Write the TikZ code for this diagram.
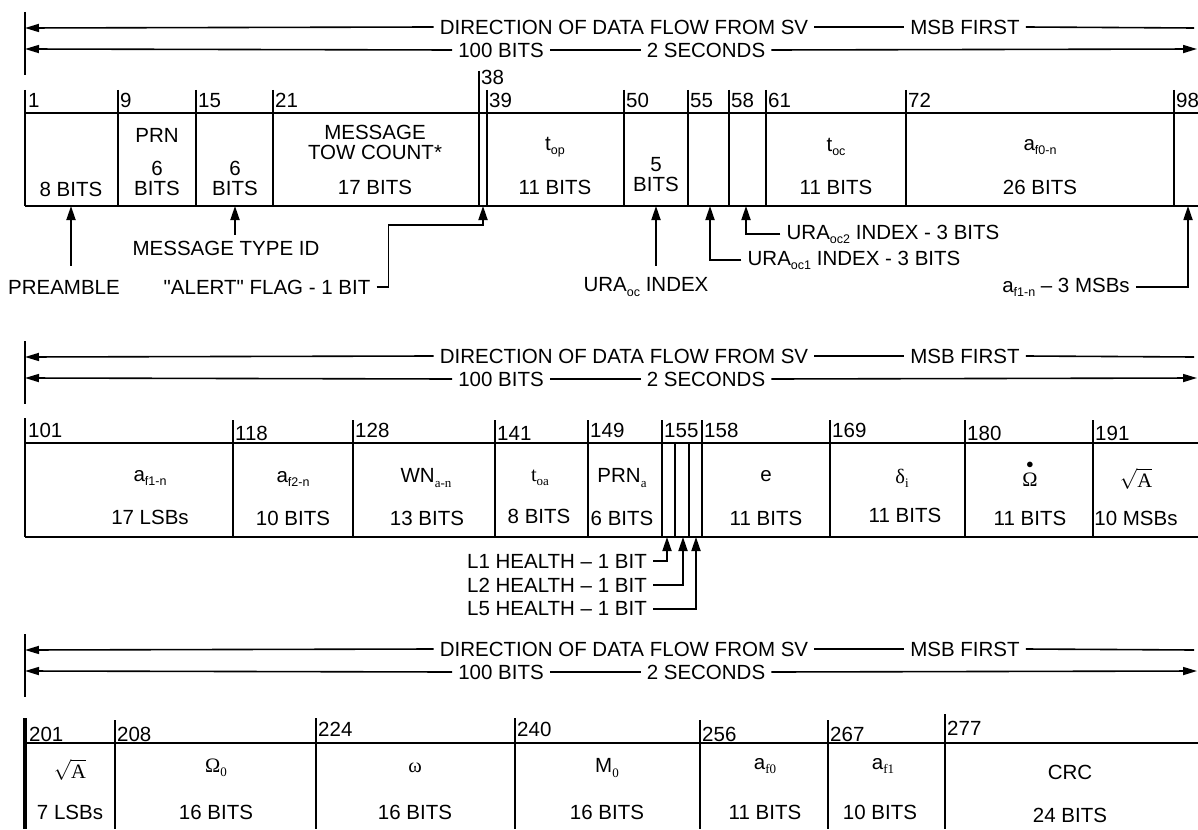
\documentclass[tikz,border=0pt]{standalone}
\usepackage{amsmath}
\usepackage{fontspec}
\setmainfont{Liberation Sans}
\newfontfamily\serifgr{Liberation Serif}
\newfontfamily\plainsans{Liberation Sans}
\usetikzlibrary{arrows.meta}

\newcommand\lowsub[1]{\raisebox{-0.2em}{\fontsize{12.5}{12.5}\selectfont #1}}
\newcommand\lowsubs[1]{\raisebox{-0.2em}{\fontsize{13}{13}\selectfont\serifgr #1}}

\tikzset{
  lbl/.style={inner sep=6pt, align=center, font=\fontsize{20.5}{20}\selectfont},
  sym/.style={lbl, inner sep=1pt},
  num/.style={inner sep=1pt, anchor=base west, font=\fontsize{20.5}{20}\selectfont},
  frame/.style={line width=2pt},
  divider/.style={line width=1.6pt},
  flow/.style={line width=1.6pt, -{Triangle[length=14pt,width=8pt]}},
  ann/.style={line width=1.8pt, -{Triangle[length=14pt,width=9pt]}},
}

\begin{document}
\begin{tikzpicture}[x=1pt,y=-1pt]
  \useasboundingbox (0,0) rectangle (1198,829);

  % direction / length headers
  \foreach \y/\r in {28/a,357/b,650/c}{
    \coordinate (bartop\r) at (25,{\y-16});
    \coordinate (barbot\r) at (25,{\y+47});
    \coordinate (dirL\r) at (25,\y);
    \coordinate (dirR\r) at (1194,\y);
    \coordinate (lenL\r) at (25,{\y+21});
    \coordinate (lenR\r) at (1197,{\y+21});
    \draw[frame] (bartop\r) -- (barbot\r);
    \node[lbl] (dir\r) at (624,{\y-1}) {DIRECTION OF DATA FLOW FROM SV};
    \node[lbl] (msb\r) at (965,{\y-1}) {MSB FIRST};
    \node[lbl] (len\r) at (501,{\y+22}) {100 BITS};
    \node[lbl] (sec\r) at (706,{\y+22}) {2 SECONDS};
    \draw[flow] (dir\r.west) -- (dirL\r);
    \draw[divider] (dir\r.east) -- (msb\r.west);
    \draw[divider] (msb\r.east) -- (dirR\r);
    \draw[flow] (len\r.west) -- (lenL\r);
    \draw[divider] (len\r.east) -- (sec\r.west);
    \draw[flow] (sec\r.east) -- (lenR\r);
  }

  % word 1: bits 1-100
  \draw[line width=2.4pt] (25,90) -- (25,206);
  \draw[frame] (25,113) -- (1198,113);
  \draw[frame] (25,206) -- (1198,206);
  \node[num] (n1) at (27,108) {1};
  \foreach \x/\n/\t/\b in {118/9/90/108,196/15/90/108,273/21/90/108,479/38/71/85,
      487/39/90/108,624/50/90/108,688/55/90/108,729/58/90/108,766/61/90/108,
      906/72/90/108,1174/98/90/108}{
    \draw[divider] (\x,\t) -- (\x,206);
    \node[num] (n\n) at ({\x+1},\b) {\n};
  }
  \node[lbl] (c1b) at (71,189) {8 BITS};
  \node[lbl] (c9a) at (157,135) {PRN};
  \node[lbl] (c9b) at (157,178) {6\\BITS};
  \node[lbl] (c15b) at (235,178) {6\\BITS};
  \node[lbl, inner sep=2pt] (c21a) at (375,142) {MESSAGE\\TOW COUNT*};
  \node[lbl] (c21b) at (375,187) {17 BITS};
  \node[lbl] (c39a) at (555,147) {t\lowsub{op}};
  \node[lbl] (c39b) at (555,187) {11 BITS};
  \node[lbl] (c50b) at (656,175) {5\\BITS};
  \node[lbl] (c61a) at (836,147) {t\lowsub{oc}};
  \node[lbl] (c61b) at (836,187) {11 BITS};
  \node[lbl] (c72a) at (1040,147) {a\lowsub{f0-n}};
  \node[lbl] (c72b) at (1040,187) {26 BITS};

  % word 1 call-outs
  \coordinate (pa) at (71,206);
  \coordinate (pb) at (235,206);
  \coordinate (pc) at (483,206);
  \coordinate (pd) at (656,206);
  \coordinate (pe) at (710,206);
  \coordinate (pf) at (746,206);
  \coordinate (pg) at (1188,206);
  \node[lbl] (pre) at (64,287) {PREAMBLE};
  \node[lbl] (mtype) at (226,248) {MESSAGE TYPE ID};
  \node[lbl] (alert) at (267,287) {{\plainsans"}ALERT{\plainsans"} FLAG - 1 BIT};
  \node[lbl] (uraoc) at (646,287) {URA\lowsub{oc} INDEX};
  \node[lbl] (uraone) at (854,260) {URA\lowsub{oc1} INDEX - 3 BITS};
  \node[lbl] (uratwo) at (893,234) {URA\lowsub{oc2} INDEX - 3 BITS};
  \node[lbl] (afmsb) at (1066,287) {a\lowsub{f1-n} -- 3 MSBs};
  \draw[ann] ([yshift=8pt]pre.north -| pa) -- (pa);
  \draw[ann] (mtype.north -| pb) -- (pb);
  \draw[ann] (alert.east) -- ++(12,0) |- ([yshift=-19pt]pc) -- (pc);
  \draw[ann] ([yshift=6pt]uraoc.north -| pd) -- (pd);
  \draw[ann] (uraone.west) -| (pe);
  \draw[ann] (uratwo.west) -| (pf);
  \draw[ann] (afmsb.east) -| (pg);

  % word 2: bits 101-200
  \draw[line width=2.4pt] (25,418) -- (25,537);
  \draw[frame] (25,443) -- (1198,443);
  \draw[frame] (25,537) -- (1198,537);
  \node[num] (n101) at (27,437) {101};
  \foreach \x/\n/\t/\b in {233/118/420/440,353/128/420/437,495/141/420/440,
      588/149/420/437,662/155/420/437,702/158/420/437,830/169/420/437,
      965/180/420/440,1093/191/420/440}{
    \draw[divider] (\x,\t) -- (\x,537);
    \node[num] (n\n) at ({\x+1},\b) {\n};
  }
  \draw[divider] (675,443) -- (675,537);
  \draw[divider] (689,443) -- (689,537);
  \node[lbl] (d101a) at (150,478) {a\lowsub{f1-n}};
  \node[lbl] (d101b) at (150,517) {17 LSBs};
  \node[lbl] (d118a) at (293,479) {a\lowsub{f2-n}};
  \node[lbl] (d118b) at (293,518) {10 BITS};
  \node[lbl] (d128a) at (426,478) {WN\lowsubs{a-n}};
  \node[lbl] (d128b) at (427,518) {13 BITS};
  \node[lbl] (d141a) at (540,478) {{\serifgr t}\lowsubs{oa}};
  \node[lbl] (d141b) at (539,516) {8 BITS};
  \node[lbl] (d149a) at (622,478) {PRN\lowsubs{a}};
  \node[lbl] (d149b) at (622,518) {6 BITS};
  \node[lbl] (d158a) at (766,476) {e};
  \node[lbl] (d158b) at (766,518) {11 BITS};
  \node[lbl] (d169a) at (902,478) {{\serifgr δ}\lowsubs{i}};
  \node[lbl] (d169b) at (905,515) {11 BITS};
  \node[sym] (d180a) at (1030,473) {$\overset{\bullet}{\text{\serifgr Ω}}$};
  \node[lbl] (d180b) at (1030,518) {11 BITS};
  \node[sym] (d191a) at (1136,479) {$\sqrt{\text{\serifgr A}}$};
  \node[lbl] (d191b) at (1136,518) {10 MSBs};

  % word 2 call-outs
  \coordinate (ha) at (667,537);
  \coordinate (hb) at (683,537);
  \coordinate (hc) at (696,537);
  \node[lbl] (lone) at (557,561) {L1 HEALTH -- 1 BIT};
  \node[lbl] (ltwo) at (557,585) {L2 HEALTH -- 1 BIT};
  \node[lbl] (lfive) at (557,609) {L5 HEALTH -- 1 BIT};
  \draw[ann] (lone.east) -| (ha);
  \draw[ann] (ltwo.east) -| (hb);
  \draw[ann] (lfive.east) -| (hc);

  % word 3: bits 201-300
  \draw[line width=3.2pt] (25,718) -- (25,829);
  \draw[frame] (25,743) -- (1198,743);
  \node[num] (n201) at (28,741) {201};
  \foreach \x/\n/\t/\b in {115/208/720/741,316/224/718/736,515/240/718/736,
      700/256/720/741,828/267/720/741,945/277/714/735}{
    \draw[divider] (\x,\t) -- (\x,829);
    \node[num] (n\n) at ({\x+1},\b) {\n};
  }
  \node[sym] (e201a) at (70,770) {$\sqrt{\text{\serifgr A}}$};
  \node[lbl] (e201b) at (70,812) {7 LSBs};
  \node[lbl] (e208a) at (216,768) {{\serifgr Ω}\lowsubs{0}};
  \node[lbl] (e208b) at (216,812) {16 BITS};
  \node[lbl] (e224a) at (415,768) {{\serifgr ω}};
  \node[lbl] (e224b) at (415,812) {16 BITS};
  \node[lbl] (e240a) at (607,768) {M\lowsubs{0}};
  \node[lbl] (e240b) at (607,812) {16 BITS};
  \node[lbl] (e256a) at (765,766) {a\lowsubs{f0}};
  \node[lbl] (e256b) at (765,812) {11 BITS};
  \node[lbl] (e267a) at (883,766) {a\lowsubs{f1}};
  \node[lbl] (e267b) at (880,812) {10 BITS};
  \node[lbl] (e277a) at (1070,772) {CRC};
  \node[lbl] (e277b) at (1070,815) {24 BITS};
\end{tikzpicture}
\end{document}
